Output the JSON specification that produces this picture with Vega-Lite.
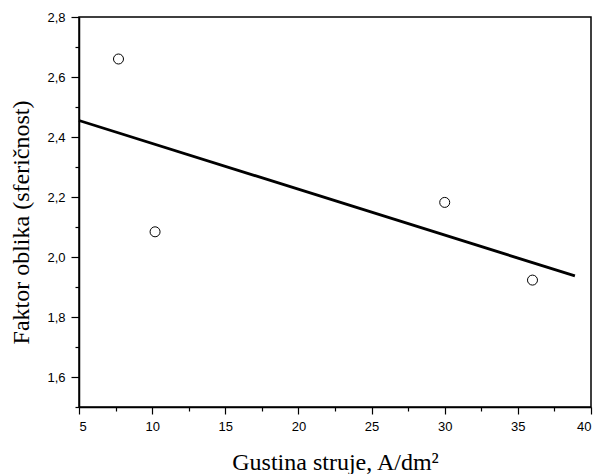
{
  "$schema": "https://vega.github.io/schema/vega-lite/v6.json",
  "width": 512,
  "height": 390,
  "autosize": {"type": "none"},
  "padding": {"left": 79, "top": 17, "right": 8, "bottom": 67},
  "background": "white",
  "config": {
    "view": {"stroke": "black", "strokeWidth": 1.5},
    "axis": {
      "domainColor": "black",
      "domainWidth": 1.5,
      "tickColor": "black",
      "tickWidth": 1.2,
      "labelFont": "Liberation Sans",
      "labelFontSize": 13,
      "labelColor": "black",
      "titleFont": "Liberation Serif",
      "titleFontSize": 24,
      "titleFontWeight": "normal",
      "titleColor": "black",
      "grid": false
    }
  },
  "datasets": {
    "points": [
      {"x": 7.7, "y": 2.66},
      {"x": 10.2, "y": 2.084},
      {"x": 30.0, "y": 2.182},
      {"x": 36.0, "y": 1.923}
    ],
    "fit": [
      {"x": 5.0, "y": 2.455},
      {"x": 38.9, "y": 1.937}
    ]
  },
  "layer": [
    {
      "data": {"name": "fit"},
      "mark": {"type": "line", "color": "black", "strokeWidth": 2.8},
      "encoding": {
        "x": {
          "field": "x", "type": "quantitative",
          "scale": {"domain": [5, 40], "nice": false, "zero": false},
          "axis": {
            "title": "Gustina struje, A/dm²",
            "values": [5, 7.5, 10, 12.5, 15, 17.5, 20, 22.5, 25, 27.5, 30, 32.5, 35, 37.5, 40],
            "tickCount": 100,
            "labelExpr": "datum.value % 5 == 0 ? format(datum.value, 'd') : ''",
            "tickSize": {"condition": {"test": "datum.value % 5 == 0", "value": 7}, "value": 4},
            "labelOverlap": false,
            "labelPadding": 6,
            "titlePadding": 17
          }
        },
        "y": {
          "field": "y", "type": "quantitative",
          "scale": {"domain": [1.5, 2.8], "nice": false, "zero": false},
          "axis": {
            "title": "Faktor oblika (sferičnost)",
            "values": [1.5, 1.6, 1.7, 1.8, 1.9, 2, 2.1, 2.2, 2.3, 2.4, 2.5, 2.6, 2.7, 2.8],
            "tickCount": 100,
            "labelExpr": "(datum.value * 10 + 0.5) % 2 < 1 ? replace(format(datum.value, '.1f'), '.', ',') : ''",
            "tickSize": {"condition": {"test": "(datum.value * 10 + 0.5) % 2 < 1", "value": 8}, "value": 4},
            "labelOverlap": false,
            "labelPadding": 6,
            "titlePadding": 13,
            "titleY": 205
          }
        }
      }
    },
    {
      "data": {"name": "points"},
      "mark": {"type": "point", "shape": "circle", "filled": false, "color": "black", "strokeWidth": 1, "size": 100, "opacity": 1},
      "encoding": {
        "x": {"field": "x", "type": "quantitative"},
        "y": {"field": "y", "type": "quantitative"}
      }
    }
  ]
}
